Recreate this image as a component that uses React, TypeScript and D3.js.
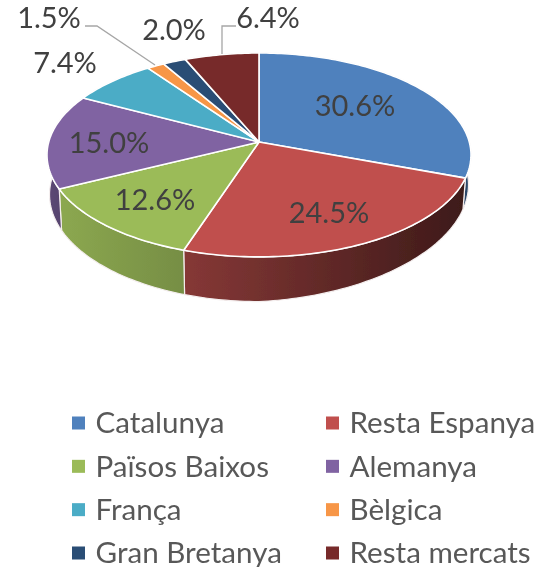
import React from "react";
import * as d3 from "d3";

const categories = ["Catalunya", "Resta Espanya", "Països Baixos", "Alemanya", "França", "Bèlgica", "Gran Bretanya", "Resta mercats"];
const values = [30.6, 24.5, 12.6, 15.0, 7.4, 1.5, 2.0, 6.4];
const colors = ["#4f81bd", "#c0504d", "#9bbb59", "#8064a2", "#4bacc6", "#f79646", "#2c4d75", "#772c2a"];
const wallLeft = [0.62, 0.7, 0.9, 0.72, 0.7, 0.7, 0.7, 0.7];
const wallRight = [0.55, 0.32, 0.76, 0.62, 0.7, 0.7, 0.7, 0.7];
const labelPos: [number, number][] = [[355, 106], [329, 213], [155, 200], [109, 143], [65, 63], [49, 18], [174, 30], [268, 18]];

const cx = 259, cy = 142, A = 210.3, B = 100.3, P = 0.127, DEPTH = 39;

function project(a: number, drop = 0): [number, number] {
  const u = Math.sin(a), v = Math.cos(a);
  const w = 1 + P * v;
  const shrink = drop > 0 ? 0.988 : 1;
  return [cx + (A * shrink * u) / w, cy - (B * v) / w + (drop * (1 - 0.25 * Math.max(0, u) )) / w];
}

function rim(a0: number, a1: number, drop = 0) {
  const n = Math.max(2, Math.ceil(Math.abs(a1 - a0) / 0.02));
  return d3.range(n + 1).map((i) => project(a0 + ((a1 - a0) * i) / n, drop));
}

export default function App() {
  const arcs = d3.pie<number>().sort(null).value((d) => d)(values);
  const line = d3.line();
  const legendX = d3.scalePoint<number>().domain([0, 1]).range([72, 326]);
  const legendY = d3.scaleLinear().domain([0, 3]).range([423, 553]);
  return (
    <svg width={535} height={567} style={{ position: "absolute", left: 0, top: 0 }} fontFamily="Lato, Carlito, sans-serif">
      <defs>
        <filter id="soft" x="-5%" y="-5%" width="110%" height="110%">
          <feGaussianBlur stdDeviation="0.55" />
        </filter>
        {arcs.map((s, i) => {
          const c = d3.rgb(colors[i]);
          const shade = (k: number) => d3.rgb(c.r * k, c.g * k, c.b * k).formatHex();
          const xs = rim(s.startAngle, s.endAngle).map((p) => p[0]);
          return (
            <linearGradient key={i} id={`wall${i}`} gradientUnits="userSpaceOnUse" x1={d3.min(xs)} x2={d3.max(xs)} y1={0} y2={0}>
              <stop offset="0" stopColor={shade(wallLeft[i])} />
              <stop offset="1" stopColor={shade(wallRight[i])} />
            </linearGradient>
          );
        })}
      </defs>
      <g filter="url(#soft)">
        {arcs.map((s, i) => {
          const top = rim(s.startAngle, s.endAngle);
          const bottom = rim(s.endAngle, s.startAngle, DEPTH);
          return <path key={i} d={line([...top, ...bottom])! + "Z"} fill={`url(#wall${i})`} stroke="#f4eeee" strokeWidth={1.2} strokeLinejoin="round" />;
        })}
        {arcs.map((s, i) => (
          <path key={i} d={line([[cx, cy], ...rim(s.startAngle, s.endAngle)])! + "Z"} fill={colors[i]} stroke="#ffffff" strokeWidth={1.6} strokeLinejoin="round" />
        ))}
        <polyline points="85,26 97,26 155,65" fill="none" stroke="#a6a6a6" strokeWidth={1.3} />
        <polyline points="236,26 222,26 222,54" fill="none" stroke="#a6a6a6" strokeWidth={1.3} />
        {values.map((v, i) => (
          <text key={i} x={labelPos[i][0]} y={labelPos[i][1]} dy="0.35em" textAnchor="middle" fontSize={29} fill="#404040">
            {v.toFixed(1)}%
          </text>
        ))}
        {categories.map((c, i) => {
          const col = i % 2, row = Math.floor(i / 2);
          const x = legendX(col)!, y = legendY(row);
          return (
            <g key={c}>
              <rect x={x} y={y - 6.5} width={13} height={13} fill={colors[i]} />
              <text x={x + 23.5} y={y} dy="0.35em" fontSize={29.6} fill="#595959">{c}</text>
            </g>
          );
        })}
      </g>
    </svg>
  );
}
